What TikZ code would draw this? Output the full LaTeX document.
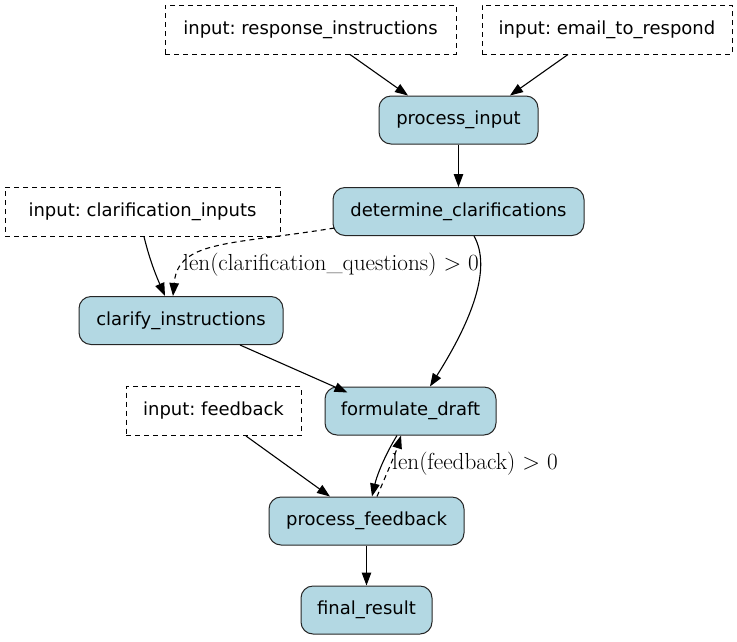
\documentclass[tikz,border=0pt]{standalone}
\usepackage{fontspec}
\newfontfamily\nodefont{DejaVu Sans}
\usetikzlibrary{arrows.meta,calc}
\definecolor{nodeblue}{HTML}{B3D8E3}
\frenchspacing
\begin{document}
\begin{tikzpicture}[x=1pt,y=-1pt,
  inbox/.style={draw,dashed,dash pattern=on 5pt off 4pt,line width=1pt,minimum height=49pt,inner sep=0pt,font=\nodefont\fontsize{18}{21}\selectfont},
  fn/.style={draw=black!85,fill=nodeblue,rounded corners=12pt,line width=1pt,minimum height=48pt,inner sep=0pt,font=\nodefont\fontsize{18}{21}\selectfont},
  edge/.style={line width=1.1pt,-{Triangle[length=13pt,width=9.5pt]}},
  cond/.style={edge,dashed,dash pattern=on 5pt off 4pt},
  lbl/.style={font=\fontsize{23.2}{26}\selectfont,inner sep=0pt}]
\useasboundingbox (0,0) rectangle (737,641);
\node[inbox,minimum width=291pt] (inresp) at (310.5,29.5) {input: response\_instructions};
\node[inbox,minimum width=250pt] (inemail) at (607,29.5) {input: email\_to\_respond};
\node[fn,minimum width=159pt] (pin) at (458.5,120) {process\_input};
\node[fn,minimum width=251pt] (det) at (458.5,211.5) {determine\_clarifications};
\node[inbox,minimum width=275pt] (inclar) at (142.5,211.5) {input: clarification\_inputs};
\node[fn,minimum width=204pt] (clar) at (181,320.5) {clarify\_instructions};
\node[inbox,minimum width=175pt] (infb) at (213.5,411) {input: feedback};
\node[fn,minimum width=171pt] (form) at (410.5,411) {formulate\_draft};
\node[fn,minimum width=195pt] (pfb) at (366.5,521) {process\_feedback};
\node[fn,minimum width=131pt] (final) at (366.5,610) {final\_result};

\draw[edge] ($(inresp.south)+(39.5,0)$) -- ($(pin.north)+(-50.5,0)$);
\draw[edge] ($(inemail.south)+(-39,0)$) -- ($(pin.north)+(51.5,0)$);
\draw[edge] (pin.south) -- (det.north);
\draw[edge] ($(inclar.south)+(1.5,0)$) .. controls (150,262) and (158,280) .. ($(clar.north)+(-16,0)$);
\draw[cond] ($(det.south west)+(2,-8)$) .. controls (230,245) and (178,240) .. ($(clar.north)+(-8,0)$);
\node[lbl,anchor=west] (lq) at (183,265) {len(clarification\_questions) > 0};
\draw[edge] ($(det.south)+(15.5,0)$) .. controls (492,268) and (472,320) .. ($(form.north)+(19.5,0)$);
\draw[edge] ($(clar.south)+(59,0)$) -- ($(form.north west)+(23,6)$);
\draw[edge] ($(infb.south)+(32.5,0)$) -- ($(pfb.north)+(-36.5,0)$);
\draw[edge] ($(form.south)+(-13.5,0)$) .. controls (385,455) and (377,475) .. ($(pfb.north)+(5.5,0)$);
\draw[cond] ($(pfb.north)+(10.5,0)$) .. controls (386,475) and (395,455) .. ($(form.south)+(-9.5,0)$);
\node[lbl,anchor=west] (lf) at (392,464) {len(feedback) > 0};
\draw[edge] (pfb.south) -- (final.north);
\end{tikzpicture}
\end{document}
